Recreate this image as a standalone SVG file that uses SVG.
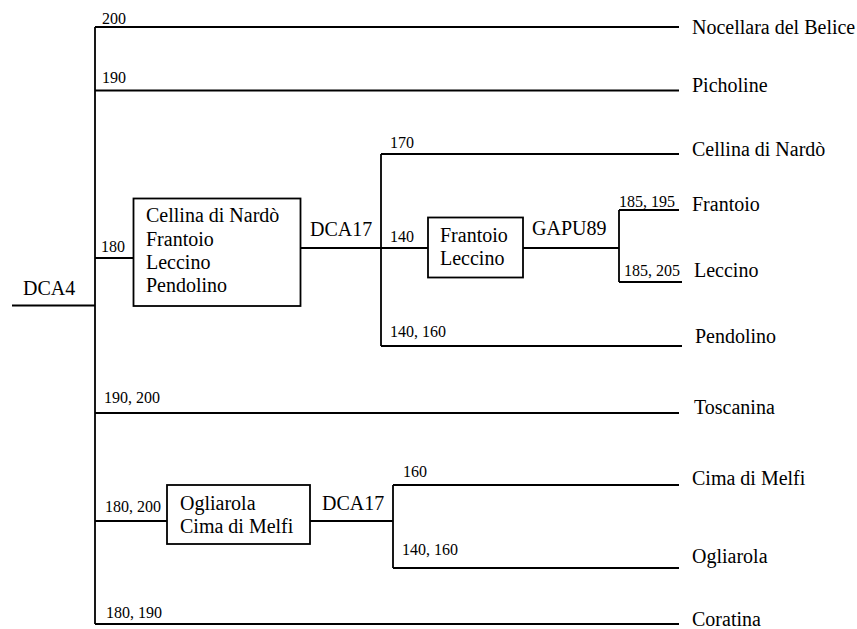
<svg xmlns="http://www.w3.org/2000/svg" width="857" height="629" viewBox="0 0 857 629">
<style>
text{font-family:"Liberation Serif","Times New Roman",Times,"DejaVu Serif",serif;fill:#000}
.lbl{font-size:20px}
.num{font-size:16px}
.ln{stroke:#000;stroke-width:1.8;fill:none}
.box{stroke:#000;stroke-width:1.8;fill:#fff}
</style>
<rect width="857" height="629" fill="#fff"/>
<g id="connectors">
<path class="ln" d="M12 305.5H95M95 27V624"/>
<path class="ln" d="M95 27H679M95 90.5H679M95 258H133M95 413H679M95 521H167M95 624H679"/>
<path class="ln" d="M300 248H381M381 154V346M381 154H679M381 248H428M381 346H682"/>
<path class="ln" d="M523 248H619M619 210V282M619 210H679M619 282H682"/>
<path class="ln" d="M310 521H393M393 485V568M393 485H679M393 568H679"/>
</g>
<g id="edge-labels" class="num">
<text x="102" y="24">200</text>
<text x="102" y="83">190</text>
<text x="101" y="252">180</text>
<text x="104" y="403">190, 200</text>
<text x="105" y="512">180, 200</text>
<text x="106" y="618">180, 190</text>
<text x="390" y="148">170</text>
<text x="390" y="242">140</text>
<text x="390" y="337">140, 160</text>
<text x="619" y="207">185, 195</text>
<text x="624" y="276">185, 205</text>
<text x="403" y="477">160</text>
<text x="402" y="555">140, 160</text>
</g>
<g id="root"><text class="lbl" x="23" y="295">DCA4</text></g>
<g id="box1">
<rect class="box" x="133.5" y="198.5" width="167" height="107.5"/>
<text class="lbl" x="146" y="222">Cellina di Nardò</text>
<text class="lbl" x="146" y="245.5">Frantoio</text>
<text class="lbl" x="146" y="268.5">Leccino</text>
<text class="lbl" x="146" y="291.5">Pendolino</text>
</g>
<g id="dca17a"><text class="lbl" x="310" y="236">DCA17</text></g>
<g id="box2">
<rect class="box" x="428" y="217.5" width="95" height="60"/>
<text class="lbl" x="440" y="242">Frantoio</text>
<text class="lbl" x="440" y="265">Leccino</text>
</g>
<g id="gapu89"><text class="lbl" x="532" y="235">GAPU89</text></g>
<g id="box3">
<rect class="box" x="167" y="485" width="143" height="59"/>
<text class="lbl" x="180" y="510">Ogliarola</text>
<text class="lbl" x="180" y="533">Cima di Melfi</text>
</g>
<g id="dca17b"><text class="lbl" x="322" y="510">DCA17</text></g>
<g id="leaves" class="lbl">
<text x="692" y="34">Nocellara del Belice</text>
<text x="692" y="92">Picholine</text>
<text x="692" y="155.5">Cellina di Nardò</text>
<text x="692" y="211">Frantoio</text>
<text x="694" y="277">Leccino</text>
<text x="695" y="342.5">Pendolino</text>
<text x="694" y="414">Toscanina</text>
<text x="692" y="485">Cima di Melfi</text>
<text x="692" y="563">Ogliarola</text>
<text x="692" y="626">Coratina</text>
</g>
</svg>
